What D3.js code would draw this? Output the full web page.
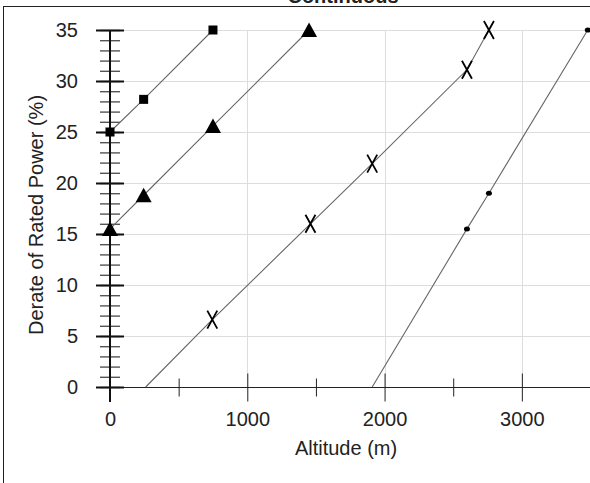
<!DOCTYPE html>
<html>
<head>
<meta charset="utf-8">
<script src="https://cdn.jsdelivr.net/npm/d3@7"></script>
<style>
  body { margin: 0; background: #fff; }
  text { font-family: "Liberation Sans", Arial, sans-serif; fill: #222; }
</style>
</head>
<body>
<svg id="chart" width="590" height="483"></svg>
<script>
// chart values
const chartTitle = 'Continuous';
const xTitle = 'Altitude (m)';
const yTitle = 'Derate of Rated Power (%)';

const xLabelTicks = [0, 1000, 2000, 3000];
const xMajorTicks = [1000, 2000, 3000];
const xMinorTicks = [500, 1500, 2500, 3500];
const yLabelTicks = [0, 5, 10, 15, 20, 25, 30, 35];
const yMinorTicks = d3.range(0, 36);

// each series: line points, and which of them carry a marker
const squareSeries = [[0, 25], [245, 28.2], [750, 35]];
const triangleSeries = [[0, 15.5], [245, 18.8], [750, 25.6], [1450, 35]];
const crossLine = [[260, 0], [745, 6.6], [1460, 16], [1910, 21.9], [2600, 31.1], [2760, 35]];
const crossMarks = [[745, 6.6], [1460, 16], [1910, 21.9], [2600, 31.1], [2760, 35]];
const dotLine = [[1910, 0], [2600, 15.5], [2760, 19], [3480, 35]];
const dotMarks = [[2600, 15.5], [2760, 19], [3480, 35]];

const svg = d3.select('#chart');

const x = d3.scaleLinear().domain([0, 3500]).range([110, 590.5]);
const y = d3.scaleLinear().domain([0, 35]).range([387, 30]);

// frame
svg.append('rect')
    .attr('x', 3.5).attr('y', 6.5)
    .attr('width', 700).attr('height', 600)
    .attr('fill', 'none').attr('stroke', '#222').attr('stroke-width', 1);

// title (mostly cut off at the top, as in the original)
svg.append('text')
    .attr('x', 343).attr('y', 3)
    .attr('text-anchor', 'middle')
    .attr('font-size', 20).attr('font-weight', 'bold')
    .text(chartTitle);

// grid
svg.append('g').selectAll('line')
    .data(yLabelTicks.filter(d => d > 0))
    .join('line')
    .attr('x1', x(0)).attr('x2', 590)
    .attr('y1', d => y(d) + 0.5).attr('y2', d => y(d) + 0.5)
    .attr('stroke', '#ddd');

svg.append('g').selectAll('line')
    .data(xMajorTicks)
    .join('line')
    .attr('x1', d => Math.round(x(d)) + 0.5).attr('x2', d => Math.round(x(d)) + 0.5)
    .attr('y1', y(35)).attr('y2', y(0))
    .attr('stroke', '#ddd');

// x axis
const xAxisG = svg.append('g').attr('transform', `translate(0,${y(0) + 0.5})`);
xAxisG.append('line')
    .attr('x1', 96).attr('x2', 590)
    .attr('stroke', '#222');

const xMinorG = xAxisG.append('g').call(d3.axisBottom(x).tickValues(xMinorTicks).tickFormat('').tickSizeOuter(0));
xMinorG.select('.domain').remove();
xMinorG.selectAll('.tick line').attr('y1', -9).attr('y2', 9).attr('stroke', '#222');

const xMajorG = xAxisG.append('g').call(d3.axisBottom(x).tickValues(xMajorTicks).tickFormat('').tickSizeOuter(0));
xMajorG.select('.domain').remove();
xMajorG.selectAll('.tick line').attr('y1', -14).attr('y2', 14).attr('stroke', '#222');

const xLabelG = xAxisG.append('g').call(d3.axisBottom(x).tickValues(xLabelTicks).tickFormat(d3.format('d')).tickSize(0).tickSizeOuter(0));
xLabelG.select('.domain').remove();
xLabelG.selectAll('.tick text')
    .attr('y', 38).attr('dy', null)
    .attr('font-size', 20).attr('font-family', null).attr('fill', '#222');

// y axis
const yAxisG = svg.append('g').attr('transform', `translate(${x(0)},0)`);

const yMinorG = yAxisG.append('g').call(d3.axisLeft(y).tickValues(yMinorTicks).tickFormat('').tickSizeOuter(0));
yMinorG.select('.domain').remove();
yMinorG.selectAll('.tick line').attr('x1', -10).attr('x2', 10)
    .attr('stroke', '#555').attr('stroke-width', 1.4);

const yMajorG = yAxisG.append('g').call(d3.axisLeft(y).tickValues(yLabelTicks).tickSizeOuter(0).tickPadding(26));
yMajorG.select('.domain').remove();
yMajorG.selectAll('.tick line').attr('x1', -14).attr('x2', 14)
    .attr('stroke', '#111').attr('stroke-width', 2);
yMajorG.selectAll('.tick text')
    .attr('font-size', 20).attr('font-family', null).attr('fill', '#222');

yAxisG.append('line')
    .attr('y1', y(35)).attr('y2', 402)
    .attr('stroke', '#111').attr('stroke-width', 2);

// axis titles
svg.append('text')
    .attr('x', 346).attr('y', 455)
    .attr('text-anchor', 'middle')
    .attr('font-size', 20)
    .text(xTitle);

svg.append('text')
    .attr('transform', 'translate(43,215) rotate(-90)')
    .attr('text-anchor', 'middle')
    .attr('font-size', 20)
    .text(yTitle);

// series lines
const line = d3.line().x(d => x(d[0])).y(d => y(d[1]));

[squareSeries, triangleSeries, crossLine, dotLine].forEach(s => {
    svg.append('path')
        .datum(s)
        .attr('d', line)
        .attr('fill', 'none')
        .attr('stroke', '#666')
        .attr('stroke-width', 1.1);
});

// markers
svg.append('g').selectAll('rect')
    .data(squareSeries)
    .join('rect')
    .attr('x', d => x(d[0]) - 4.5).attr('y', d => y(d[1]) - 4.5)
    .attr('width', 9).attr('height', 9)
    .attr('fill', '#000');

svg.append('g').selectAll('path')
    .data(triangleSeries)
    .join('path')
    .attr('transform', d => `translate(${x(d[0])},${y(d[1])})`)
    .attr('d', 'M0,-7.5 L8,7 L-8,7 Z')
    .attr('fill', '#000');

svg.append('g').selectAll('path')
    .data(crossMarks)
    .join('path')
    .attr('transform', d => `translate(${x(d[0])},${y(d[1])})`)
    .attr('d', 'M-5,-9 L5,9 M5,-9 L-5,9')
    .attr('fill', 'none')
    .attr('stroke', '#000')
    .attr('stroke-width', 1.8);

svg.append('g').selectAll('ellipse')
    .data(dotMarks)
    .join('ellipse')
    .attr('cx', d => x(d[0])).attr('cy', d => y(d[1]))
    .attr('rx', 3).attr('ry', 2.5)
    .attr('fill', '#000');
</script>
</body>
</html>
